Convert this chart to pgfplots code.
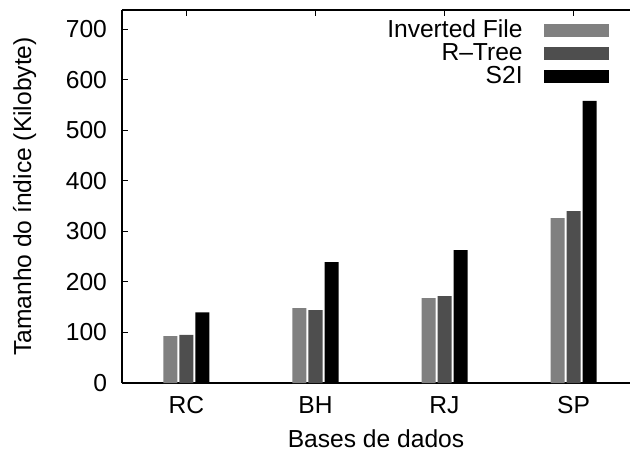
\documentclass[border=0pt]{standalone}
\usepackage{fontspec}
\setmainfont{Liberation Sans}
\usepackage{pgfplots}
\pgfplotsset{compat=1.18}
\definecolor{cinv}{RGB}{128,128,128}
\definecolor{crt}{RGB}{78,78,78}
\begin{document}
\begin{tikzpicture}
\begin{axis}[
  scale only axis,
  width=254pt, height=186.5pt,
  ybar=1pt, bar width=7pt,
  xmin=-0.5, xmax=3.438,
  ymin=0, ymax=738,
  axis x line*=box, axis y line*=left,
  xtick={0,1,2,3}, xticklabels={RC,BH,RJ,SP},
  ytick={0,100,...,700},
  tick align=inside, major tick length=3pt,
  xtick pos=both, ytick pos=left,
  axis line style={line width=1pt},
  tick style={line width=0.5pt, black},
  /pgf/number format/assume math mode=true,
  font=\fontsize{12.3}{14}\selectfont,
  ticklabel style={font=\fontsize{12.3}{14}\selectfont},
  yticklabel style={xshift=-4pt},
  xticklabel style={yshift=-3pt},
  xlabel={Bases de dados},
  ylabel={Tamanho do índice (Kilobyte)},
  xlabel style={yshift=-1pt},
  ylabel style={yshift=8pt},
  legend style={draw=none, fill=none, at={(rel axis cs:0.9587,0.985)}, anchor=north east,
    row sep=-2.6pt, inner sep=0pt, font=\fontsize{12.3}{14}\selectfont,
    /tikz/every odd column/.append style={column sep=8.5pt}},
  legend plot pos=right,
  legend cell align=right,
  legend image code/.code={\fill[#1] (0pt,-3.25pt) rectangle (32.5pt,3.25pt);},
]
\addplot[fill=cinv, draw=none] coordinates {(0,93) (1,148) (2,168) (3,326)};
\addlegendentry{Inverted File}
\addplot[fill=crt, draw=none] coordinates {(0,95) (1,144) (2,172) (3,340)};
\addlegendentry{R--Tree}
\addplot[fill=black, draw=none] coordinates {(0,140) (1,239) (2,263) (3,558)};
\addlegendentry{S2I}
\end{axis}
\pgfresetboundingbox
\path (current axis.south west) ++(-61pt,-37pt) rectangle ++(315pt,228.5pt);
\end{tikzpicture}
\end{document}
